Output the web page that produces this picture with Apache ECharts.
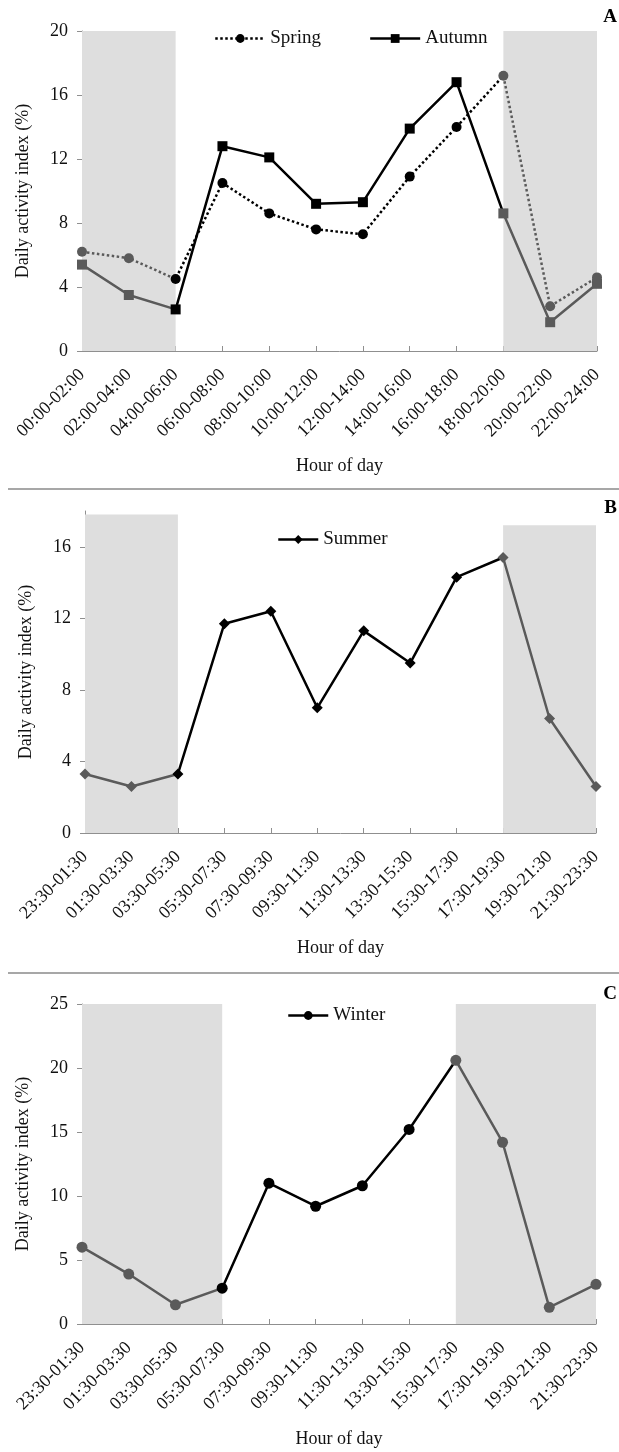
<!DOCTYPE html>
<html>
<head>
<meta charset="utf-8">
<script src="https://cdn.jsdelivr.net/npm/echarts@6/dist/echarts.min.js"></script>
<style>
html,body{margin:0;padding:0;background:#fff;}
#chart{width:619px;height:1452px;}
</style>
</head>
<body>
<div id="chart"></div>
<script>
// ---- data ----
const hoursA = ['00:00-02:00','02:00-04:00','04:00-06:00','06:00-08:00','08:00-10:00','10:00-12:00','12:00-14:00','14:00-16:00','16:00-18:00','18:00-20:00','20:00-22:00','22:00-24:00'];
const hoursBC = ['23:30-01:30','01:30-03:30','03:30-05:30','05:30-07:30','07:30-09:30','09:30-11:30','11:30-13:30','13:30-15:30','15:30-17:30','17:30-19:30','19:30-21:30','21:30-23:30'];
const spring = [6.2, 5.8, 4.5, 10.5, 8.6, 7.6, 7.3, 10.9, 14.0, 17.2, 2.8, 4.6];
const autumn = [5.4, 3.5, 2.6, 12.8, 12.1, 9.2, 9.3, 13.9, 16.8, 8.6, 1.8, 4.2];
const summer = [3.3, 2.6, 3.3, 11.7, 12.4, 7.0, 11.3, 9.5, 14.3, 15.4, 6.4, 2.6];
const winter = [6.0, 3.9, 1.5, 2.8, 11.0, 9.2, 10.8, 15.2, 20.6, 14.2, 1.3, 3.1];
const ticksA = [0, 4, 8, 12, 16, 20];
const ticksB = [0, 4, 8, 12, 16];
const ticksC = [0, 5, 10, 15, 20, 25];
// night (shaded) category index ranges per panel
const nightA = [[0, 2], [9, 11]];
const nightB = [[0, 2], [9, 11]];
const nightC = [[0, 3], [8, 11]];
const nightBTop = [17.8, 17.2];

const FONT = "'Liberation Serif','Times New Roman',serif";
const BLACK = '#000000';
const GRAY = '#5a5a5a';
const SHADE = '#dedede';
const AXIS = '#8f8f8f';

function xAxisCfg(gridIndex, cats) {
  return {
    type: 'category', gridIndex: gridIndex, data: cats, boundaryGap: false,
    name: 'Hour of day', nameLocation: 'middle', nameGap: 106,
    nameTextStyle: {fontFamily: FONT, fontSize: 18, color: '#111'},
    axisLine: {show: true, lineStyle: {color: AXIS, width: 1}},
    axisTick: {show: true, inside: true, length: 5, lineStyle: {color: AXIS}},
    axisLabel: {rotate: 45, margin: 21, fontFamily: FONT, fontSize: 18, color: '#111', interval: 0},
    splitLine: {show: false}
  };
}
function yAxisCfg(gridIndex, max, interval, ticks) {
  return {
    type: 'value', gridIndex: gridIndex, min: 0, max: max, interval: interval,
    name: 'Daily activity index (%)', nameLocation: 'middle', nameGap: 50,
    nameTextStyle: {fontFamily: FONT, fontSize: 18, color: '#111'},
    axisLine: {show: true, lineStyle: {color: AXIS, width: 1}},
    axisTick: {show: true, length: 5, lineStyle: {color: AXIS}, customValues: ticks},
    axisLabel: {margin: 14, fontFamily: FONT, fontSize: 18, color: '#111', customValues: ticks},
    splitLine: {show: false}
  };
}
function shade(ranges, tops) {
  return {
    silent: true,
    itemStyle: {color: SHADE},
    data: ranges.map(function (r, i) {
      const a = {xAxis: r[0]}, b = {xAxis: r[1]};
      if (tops) { a.yAxis = 0; b.yAxis = tops[i]; }
      return [a, b];
    })
  };
}
function pieces(ranges) {
  return [
    {lt: ranges[0][1], color: GRAY},
    {gte: ranges[0][1], lt: ranges[1][0], color: BLACK},
    {gte: ranges[1][0], color: GRAY}
  ];
}

const option = {
  animation: false,
  backgroundColor: '#fff',
  textStyle: {fontFamily: FONT},
  grid: [
    {left: 82, top: 31, width: 515, height: 320},
    {left: 85, top: 511, width: 511, height: 322},
    {left: 82, top: 1004, width: 514, height: 320}
  ],
  xAxis: [xAxisCfg(0, hoursA), xAxisCfg(1, hoursBC), xAxisCfg(2, hoursBC)],
  yAxis: [yAxisCfg(0, 20, 4, ticksA), yAxisCfg(1, 18, 2, ticksB), yAxisCfg(2, 25, 5, ticksC)],
  legend: [
    {left: 209, top: 24, itemWidth: 50, itemHeight: 11, itemGap: 48,
     textStyle: {fontFamily: FONT, fontSize: 19, color: '#111'},
     data: [
       {name: 'Spring', itemStyle: {color: BLACK}, lineStyle: {color: BLACK, type: 'dotted', width: 2.5}},
       {name: 'Autumn', itemStyle: {color: BLACK}, lineStyle: {color: BLACK, width: 2.5}}
     ]},
    {left: 272, top: 525, itemWidth: 40, itemHeight: 11, itemGap: 10,
     textStyle: {fontFamily: FONT, fontSize: 19, color: '#111'},
     data: [{name: 'Summer', itemStyle: {color: BLACK}, lineStyle: {color: BLACK, width: 2.5}}]},
    {left: 282, top: 1001, itemWidth: 40, itemHeight: 11, itemGap: 10,
     textStyle: {fontFamily: FONT, fontSize: 19, color: '#111'},
     data: [{name: 'Winter', itemStyle: {color: BLACK}, lineStyle: {color: BLACK, width: 2.5}}]}
  ],
  visualMap: [
    {show: false, type: 'piecewise', seriesIndex: 0, dimension: 0, pieces: pieces(nightA)},
    {show: false, type: 'piecewise', seriesIndex: 1, dimension: 0, pieces: pieces(nightA)},
    {show: false, type: 'piecewise', seriesIndex: 2, dimension: 0, pieces: pieces(nightB)},
    {show: false, type: 'piecewise', seriesIndex: 3, dimension: 0, pieces: pieces(nightC)}
  ],
  series: [
    {name: 'Spring', type: 'line', xAxisIndex: 0, yAxisIndex: 0, data: spring,
     symbol: 'circle', symbolSize: 10, lineStyle: {type: 'dotted', width: 2.5},
     markArea: shade(nightA)},
    {name: 'Autumn', type: 'line', xAxisIndex: 0, yAxisIndex: 0, data: autumn,
     symbol: 'rect', symbolSize: 10, lineStyle: {width: 2.5}},
    {name: 'Summer', type: 'line', xAxisIndex: 1, yAxisIndex: 1, data: summer,
     symbol: 'diamond', symbolSize: 11, lineStyle: {width: 2.5},
     markArea: shade(nightB, nightBTop)},
    {name: 'Winter', type: 'line', xAxisIndex: 2, yAxisIndex: 2, data: winter,
     symbol: 'circle', symbolSize: 11, lineStyle: {width: 2.5},
     markArea: shade(nightC)}
  ],
  graphic: [
    {type: 'line', shape: {x1: 8, y1: 489, x2: 619, y2: 489}, style: {stroke: '#8a8a8a', lineWidth: 1.5}},
    {type: 'line', shape: {x1: 8, y1: 973, x2: 619, y2: 973}, style: {stroke: '#8a8a8a', lineWidth: 1.5}},
    {type: 'text', right: 2, top: 8, style: {text: 'A', font: 'bold 19px ' + FONT, fill: '#000'}},
    {type: 'text', right: 2, top: 499, style: {text: 'B', font: 'bold 19px ' + FONT, fill: '#000'}},
    {type: 'text', right: 2, top: 985, style: {text: 'C', font: 'bold 19px ' + FONT, fill: '#000'}}
  ]
};

const chart = echarts.init(document.getElementById('chart'), null, {renderer: 'canvas'});
chart.setOption(option);
</script>
</body>
</html>
